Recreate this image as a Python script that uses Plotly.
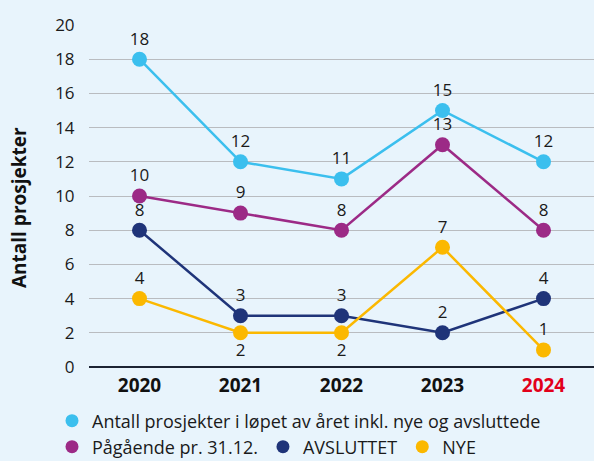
import plotly.graph_objects as go

years = ["2020", "2021", "2022", "2023", "2024"]
antall = [18, 12, 11, 15, 12]
pagaende = [10, 9, 8, 13, 8]
avsluttet = [8, 3, 3, 2, 4]
nye = [4, 2, 2, 7, 1]

names = ["Antall prosjekter i løpet av året inkl. nye og avsluttede",
         "Pågående pr. 31.12.", "AVSLUTTET", "NYE"]
colors = ["#3bbfee", "#9c2a86", "#1f3479", "#fbb800"]
series = [antall, pagaende, avsluttet, nye]
legends = ["legend", "legend2", "legend2", "legend2"]
positions = [
    ["top center"] * 5,
    ["top center"] * 5,
    ["top center"] * 5,
    ["top center", "bottom center", "bottom center", "top center", "top center"],
]

FONT = "Open Sans"
W, H = 594, 461
L, T, B = 89, 25, 94
BG = "#e8f4fc"
fig = go.Figure()
for vals, col, pos in zip(series, colors, positions):
    fig.add_trace(go.Scatter(
        x=years, y=vals, mode="lines+markers+text",
        line=dict(color=col, width=2.5),
        marker=dict(color=col, size=15),
        text=[str(v) for v in vals], textposition=pos,
        textfont=dict(family=FONT, size=17, color="#1a1a1a"),
        showlegend=False, cliponaxis=False,
    ))
for name, col, lg in zip(names, colors, legends):
    fig.add_trace(go.Scatter(
        x=[None], y=[None], mode="markers", name=name, legend=lg,
        marker=dict(color=col, size=13),
    ))

pw, ph = W - L, H - T - B
legfont = dict(family=FONT, size=18, color="#1a1a1a")
fig.update_layout(
    width=W, height=H,
    paper_bgcolor=BG, plot_bgcolor=BG,
    margin=dict(l=L, r=0, t=T, b=B, autoexpand=False),
    font=dict(family=FONT, size=16, color="#1a1a1a"),
    legend=dict(orientation="h", xref="container", yref="container",
                x=52 / W, xanchor="left", y=1 - 421 / H, yanchor="middle",
                font=legfont, itemwidth=30, bgcolor="rgba(0,0,0,0)"),
    legend2=dict(orientation="h", xref="container", yref="container",
                 x=52 / W, xanchor="left", y=1 - 447 / H, yanchor="middle",
                 font=legfont, itemwidth=30, bgcolor="rgba(0,0,0,0)"),
    xaxis=dict(
        type="category", range=[-0.5, 4.5],
        showgrid=False, zeroline=False,
        showline=False, automargin=False,
        tickmode="array", tickvals=years,
        ticktext=["<b>2020</b>", "<b>2021</b>", "<b>2022</b>", "<b>2023</b>",
                  "<b><span style='color:#e2001a'>2024</span></b>"],
        tickfont=dict(family=FONT, size=19, color="#111111"),
        ticks="outside", ticklen=1, tickcolor="rgba(0,0,0,0)",
    ),
    yaxis=dict(
        range=[0, 20], dtick=2, automargin=False,
        showgrid=True, gridcolor="#b9bcc0", gridwidth=1.2,
        zeroline=True, zerolinecolor="#1c2333", zerolinewidth=1.5,
        ticks="outside", ticklen=10, tickcolor="rgba(0,0,0,0)",
        tickfont=dict(family=FONT, size=17, color="#1a1a1a"),
    ),
    annotations=[dict(
        text="<b>Antall prosjekter</b>", textangle=-90, showarrow=False,
        xref="paper", yref="paper",
        x=(19 - L) / pw, y=(H - B - 208) / ph,
        xanchor="center", yanchor="middle",
        font=dict(family=FONT, size=19, color="#111111"),
    )],
)
fig.write_html(
    "out.html",
    config={"displayModeBar": False},
    post_script="document.body.style.margin='0';document.body.style.background='%s';" % BG,
)
